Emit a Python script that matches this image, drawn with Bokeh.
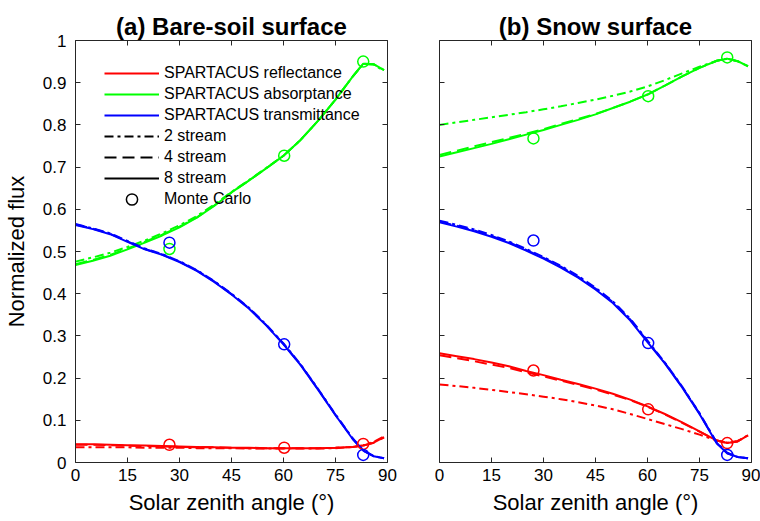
from bokeh.plotting import figure
from bokeh.layouts import row
from bokeh.models import LinearAxis, Legend, LegendItem, ColumnDataSource, FixedTicker, Range1d
from bokeh.embed import file_html
from bokeh.resources import INLINE

# ---------------- data ----------------
ANGLES = [0, 5, 10, 15, 20, 25, 30, 35, 40, 45, 50, 55, 60, 65, 70, 75, 80, 83, 86, 89]

# (a) Bare-soil surface
SOIL_R8 = [.043, .043, .042, .041, .040, .039, .038, .037, .036, .035, .035, .034, .034, .034, .034, .035, .037, .040, .047, .060]
SOIL_R4 = [.042, .042, .041, .040, .039, .038, .037, .036, .036, .035, .034, .034, .034, .034, .034, .035, .037, .040, .047, .059]
SOIL_R2 = [.036, .036, .036, .036, .035, .035, .035, .034, .034, .034, .033, .033, .033, .033, .033, .034, .037, .041, .049, .062]
SOIL_A8 = [.468, .478, .490, .505, .521, .538, .557, .580, .608, .640, .668, .697, .727, .765, .810, .860, .915, .945, .944, .930]
SOIL_A4 = [.470, .480, .492, .507, .523, .540, .559, .581, .609, .640, .668, .697, .727, .765, .810, .860, .915, .945, .944, .930]
SOIL_A2 = [.476, .486, .497, .511, .526, .543, .562, .584, .611, .641, .669, .698, .727, .765, .810, .860, .915, .944, .943, .928]
SOIL_T8 = [.563, .553, .541, .523, .505, .492, .475, .454, .428, .398, .365, .325, .280, .230, .172, .112, .055, .028, .015, .010]
SOIL_T4 = [.564, .554, .542, .524, .506, .493, .476, .455, .429, .399, .366, .326, .281, .231, .173, .113, .056, .028, .015, .010]
SOIL_T2 = [.565, .555, .543, .525, .507, .494, .477, .456, .430, .400, .367, .327, .282, .232, .174, .114, .057, .029, .015, .010]

# (b) Snow surface
SNOW_R8 = [.259, .252, .245, .237, .228, .217, .207, .196, .186, .175, .163, .149, .133, .115, .095, .074, .052, .046, .050, .064]
SNOW_R4 = [.254, .247, .240, .232, .224, .214, .204, .194, .184, .173, .161, .148, .132, .114, .094, .073, .052, .046, .050, .064]
SNOW_R2 = [.185, .181, .177, .172, .167, .162, .156, .150, .143, .135, .126, .115, .103, .091, .079, .066, .052, .047, .051, .065]
SNOW_A8 = [.725, .735, .745, .755, .766, .777, .788, .800, .812, .825, .840, .855, .872, .893, .915, .935, .952, .957, .951, .939]
SNOW_A4 = [.729, .739, .749, .759, .769, .779, .790, .802, .814, .826, .840, .855, .872, .893, .915, .935, .952, .957, .951, .939]
SNOW_A2 = [.800, .806, .812, .818, .824, .830, .837, .844, .852, .860, .869, .879, .891, .906, .922, .938, .952, .957, .951, .939]
SNOW_T8 = [.569, .559, .548, .535, .520, .502, .483, .462, .438, .410, .378, .337, .285, .235, .178, .115, .045, .022, .013, .010]
SNOW_T4 = [.571, .561, .550, .537, .522, .504, .485, .464, .440, .412, .380, .339, .287, .236, .179, .116, .046, .022, .013, .010]
SNOW_T2 = [.573, .563, .552, .539, .524, .506, .487, .466, .442, .414, .382, .341, .289, .237, .180, .117, .047, .023, .013, .010]

# Monte Carlo
MC_ANGLES = [27.1, 60.2, 83.0]
SOIL_MC_R = [.042, .035, .044]
SOIL_MC_A = [.506, .727, .950]
SOIL_MC_T = [.521, .280, .018]
SNOW_MC_R = [.218, .126, .046]
SNOW_MC_A = [.768, .868, .960]
SNOW_MC_T = [.526, .283, .018]

X_TICKS = [0, 15, 30, 45, 60, 75, 90]
Y_TICKS = [0, 0.1, 0.2, 0.3, 0.4, 0.5, 0.6, 0.7, 0.8, 0.9, 1]
Y_TICK_LABELS = {0: "0", 0.1: "0.1", 0.2: "0.2", 0.3: "0.3", 0.4: "0.4", 0.5: "0.5",
                 0.6: "0.6", 0.7: "0.7", 0.8: "0.8", 0.9: "0.9", 1: "1"}

# ---------------- style ----------------
FONT = "Liberation Sans"
RED, GREEN, BLUE = "#ff0000", "#00ff00", "#0000ff"
AXC = "#262626"
DASH = {2: "9 4 3 4", 4: "12 6", 8: "solid"}
NAN = float("nan")


def style_axis(ax, ticks, show_labels):
    ax.ticker = FixedTicker(ticks=ticks)
    ax.major_tick_in = 5
    ax.major_tick_out = 0
    ax.minor_tick_line_color = None
    ax.axis_line_color = AXC
    ax.axis_line_width = 1
    ax.major_tick_line_color = AXC
    if show_labels:
        ax.major_label_text_font = FONT
        ax.major_label_text_font_size = "17px"
        ax.major_label_text_color = "black"
    else:
        ax.major_label_text_font_size = "0px"
        ax.major_label_text_color = None
        ax.major_label_standoff = 0


def make_panel(title, R, A, T, mc, width, bl, br, show_y, title_offset):
    p = figure(width=width, height=521, x_range=Range1d(0, 90), y_range=Range1d(0, 1),
               output_backend="svg", toolbar_location=None,
               min_border_left=bl, min_border_right=br, min_border_top=40, min_border_bottom=59)
    p.grid.visible = False
    p.outline_line_color = None
    p.background_fill_color = "white"
    p.border_fill_color = "white"

    p.title.text = title
    p.title.align = "center"
    p.title.text_font = FONT
    p.title.text_font_style = "bold"
    p.title.text_font_size = "24px"
    p.title.text_color = "black"
    p.title.offset = title_offset
    p.title.standoff = 2

    xa = p.xaxis[0]
    style_axis(xa, X_TICKS, True)
    xa.axis_label = "Solar zenith angle (°)"
    xa.axis_label_text_font = FONT
    xa.axis_label_text_font_size = "22px"
    xa.axis_label_text_font_style = "normal"
    xa.axis_label_text_color = "black"
    xa.axis_label_standoff = 6
    xa.major_label_standoff = 6

    ya = p.yaxis[0]
    style_axis(ya, Y_TICKS, show_y)
    if show_y:
        ya.major_label_overrides = Y_TICK_LABELS
        ya.major_label_standoff = 9
        ya.axis_label = "Normalized flux"
        ya.axis_label_text_font = FONT
        ya.axis_label_text_font_size = "22px"
        ya.axis_label_text_font_style = "normal"
        ya.axis_label_text_color = "black"
        ya.axis_label_standoff = 11

    top = LinearAxis()
    style_axis(top, X_TICKS, False)
    p.add_layout(top, "above")
    right = LinearAxis()
    style_axis(right, Y_TICKS, False)
    p.add_layout(right, "right")

    rends = {}
    for color, series in ((RED, R), (GREEN, A), (BLUE, T)):
        for n in (2, 4, 8):
            src = ColumnDataSource(dict(x=ANGLES, y=series[n]))
            r = p.line("x", "y", source=src, line_color=color, line_width=2, line_dash=DASH[n])
            rends[(color, n)] = r
    for color, vals in ((RED, mc[0]), (GREEN, mc[1]), (BLUE, mc[2])):
        src = ColumnDataSource(dict(x=MC_ANGLES, y=vals))
        p.scatter("x", "y", source=src, marker="circle", size=11, fill_color=None,
                  line_color=color, line_width=1.5)
    return p, rends


left, lr = make_panel("(a) Bare-soil surface",
                      {2: SOIL_R2, 4: SOIL_R4, 8: SOIL_R8},
                      {2: SOIL_A2, 4: SOIL_A4, 8: SOIL_A8},
                      {2: SOIL_T2, 4: SOIL_T4, 8: SOIL_T8},
                      (SOIL_MC_R, SOIL_MC_A, SOIL_MC_T), 413, 73, 26, True, 13)
right, _ = make_panel("(b) Snow surface",
                      {2: SNOW_R2, 4: SNOW_R4, 8: SNOW_R8},
                      {2: SNOW_A2, 4: SNOW_A4, 8: SNOW_A8},
                      {2: SNOW_T2, 4: SNOW_T4, 8: SNOW_T8},
                      (SNOW_MC_R, SNOW_MC_A, SNOW_MC_T), 347, 26, 9, False, 9)


# legend proxies (black style keys), with no visible data in the plot
def proxy():
    return ColumnDataSource(dict(x=[NAN], y=[NAN]))


k2 = left.line("x", "y", source=proxy(), line_color="black", line_width=2, line_dash=DASH[2])
k4 = left.line("x", "y", source=proxy(), line_color="black", line_width=2, line_dash=DASH[4])
k8 = left.line("x", "y", source=proxy(), line_color="black", line_width=2)
kmc = left.scatter("x", "y", source=proxy(), marker="circle", size=11,
                   fill_color=None, line_color="black", line_width=1.5)

LEG_STYLE = dict(background_fill_alpha=0, border_line_color=None,
                 label_text_font=FONT, label_text_font_size="16px", label_text_color="black",
                 glyph_width=55, label_height=16, padding=0, margin=0, label_standoff=5)

legend_lines = Legend(items=[
    LegendItem(label="SPARTACUS reflectance", renderers=[lr[(RED, 8)]]),
    LegendItem(label="SPARTACUS absorptance", renderers=[lr[(GREEN, 8)]]),
    LegendItem(label="SPARTACUS transmittance", renderers=[lr[(BLUE, 8)]]),
    LegendItem(label="2 stream", renderers=[k2]),
    LegendItem(label="4 stream", renderers=[k4]),
    LegendItem(label="8 stream", renderers=[k8]),
], location=(29, 275), glyph_height=16, spacing=3, **LEG_STYLE)
left.add_layout(legend_lines)

legend_mc = Legend(items=[LegendItem(label="Monte Carlo", renderers=[kmc])],
                   location=(29, 249), glyph_height=28, spacing=0, **LEG_STYLE)
left.add_layout(legend_mc)

layout = row(left, right, spacing=0)
open("out.html", "w").write(file_html(layout, INLINE))
